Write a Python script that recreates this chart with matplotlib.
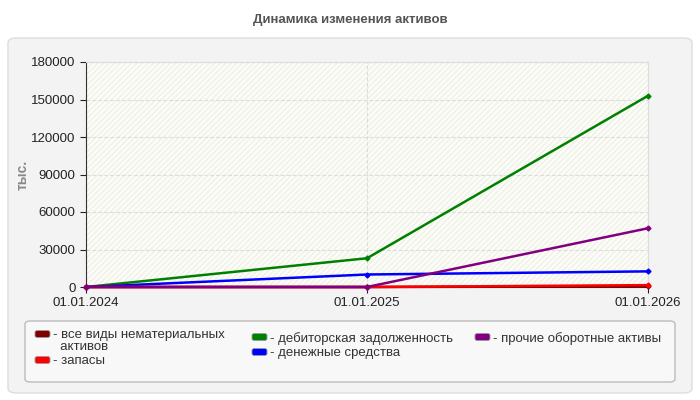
import numpy as np
import matplotlib.pyplot as plt
from matplotlib.patches import FancyBboxPatch, Rectangle

plt.rcParams['font.family'] = ['Liberation Sans', 'DejaVu Sans']

dates = ['01.01.2024', '01.01.2025', '01.01.2026']
names = ['все виды нематериальных\nактивов', 'запасы', 'дебиторская задолженность',
         'денежные средства', 'прочие оборотные активы']
colors = ['#800000', '#ff0000', '#008000', '#0000ff', '#800080']
intangible = [0, 0, 500]
stocks = [0, 0, 1500]
receivables = [0, 23000, 153000]
cash = [0, 10000, 12500]
other = [0, 0, 47000]
series = [intangible, stocks, receivables, cash, other]
yticks = [0, 30000, 60000, 90000, 120000, 150000, 180000]

fig = plt.figure(figsize=(7, 4), dpi=100)
fig.patch.set_facecolor('white')

# серая панель
panel = FancyBboxPatch((8 / 700, 7 / 400), 684 / 700, 355 / 400, transform=fig.transFigure,
                       boxstyle='round,pad=0,rounding_size=0.012', fc='#f3f3f3', ec='#dddddd',
                       lw=1, zorder=-2)
fig.patches.append(panel)
fig.text(0.5, 1 - 20 / 400, 'Динамика изменения активов', ha='center', va='center',
         fontsize=9.5, fontweight='bold', color='#555555')

ax = fig.add_axes([86 / 700, 1 - 287 / 400, 562 / 700, 225 / 400])
ax.set_facecolor('#fdfdf7')
ax.add_patch(Rectangle((0, 0), 1, 1, transform=ax.transAxes, fill=False, hatch='//////',
                       ec='#f0f0ea', lw=0, zorder=0))
x = np.arange(len(dates))
order = [2, 3, 0, 1, 4]
for i in order:
    ax.plot(x, series[i], color=colors[i], lw=1.8, marker='D', ms=2.5, zorder=3, clip_on=False)
ax.set_xlim(0, 2)
ax.set_ylim(0, 180000)
ax.set_xticks(x)
ax.set_xticklabels(dates)
ax.set_yticks(yticks)
ax.grid(True, color='#dddddd', ls='--', lw=0.8)
ax.set_axisbelow(True)
for s in ['top', 'right']:
    ax.spines[s].set_color('#dddddd')
for s in ['left', 'bottom']:
    ax.spines[s].set_color('#333333')
ax.tick_params(labelsize=9.5, colors='#222222', length=4)
ax.set_ylabel('тыс.', fontsize=10, fontweight='bold', color='#888888')
ax.yaxis.set_label_coords(-56 / 562, 0.5)

# легенда
leg = FancyBboxPatch((25 / 700, 18 / 400), 650 / 700, 61 / 400, transform=fig.transFigure,
                     boxstyle='round,pad=0,rounding_size=0.008', fc='#f8f8f8', ec='#bbbbbb',
                     lw=1, zorder=-1)
fig.patches.append(leg)
pos = [(35, 334), (35, 360), (252, 337), (252, 352), (475, 337)]
for (px, py), nm, c in zip(pos, names, colors):
    fig.patches.append(FancyBboxPatch((px / 700, 1 - (py + 3.5) / 400), 15 / 700, 7 / 400,
                                      transform=fig.transFigure,
                                      boxstyle='round,pad=0,rounding_size=0.004',
                                      fc=c, ec='#999999', lw=0.6))
    fig.text((px + 18) / 700, 1 - (py - 5) / 400, '- ' + nm.replace('\n', '\n  '),
             ha='left', va='top', fontsize=9.5, color='#333333', linespacing=0.95)

fig.savefig('out.png', dpi=100)
